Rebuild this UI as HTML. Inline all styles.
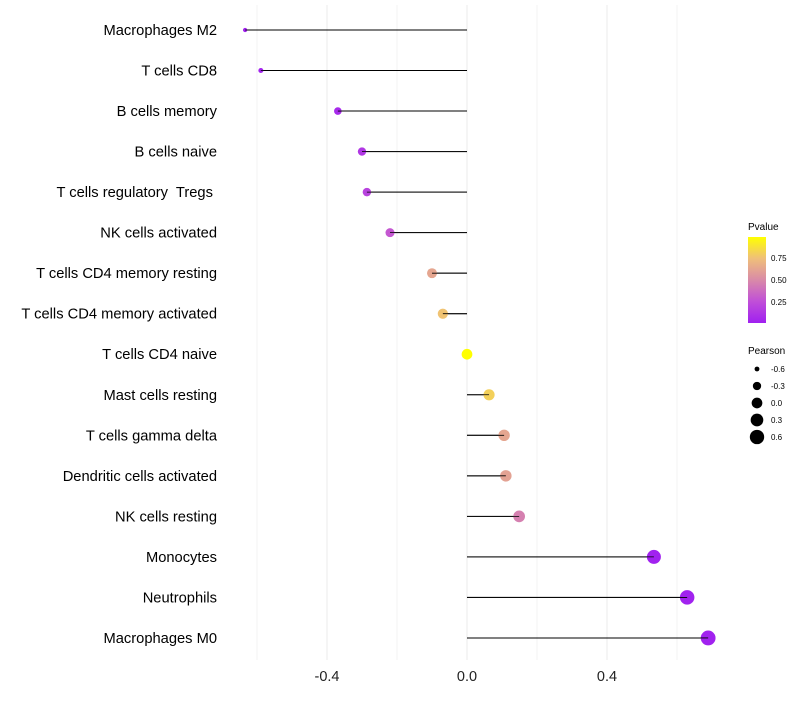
<!DOCTYPE html>
<html><head><meta charset="utf-8"><style>
body{margin:0;background:#fff;font-family:"Liberation Sans",sans-serif;}
svg text{font-family:"Liberation Sans",sans-serif;white-space:pre;}
</style></head><body>
<svg id="chart" width="800" height="700" xmlns="http://www.w3.org/2000/svg">
<g id="grid"></g>
<g id="marks"></g>
<g id="ylabels"></g>
<g id="xlabels"></g>
<g id="legend">
<defs><linearGradient id="pg" x1="0" y1="1" x2="0" y2="0">
<stop offset="0" stop-color="#A020F0"/><stop offset="0.25" stop-color="#C04FD8"/><stop offset="0.5" stop-color="#D98AA8"/><stop offset="0.75" stop-color="#EFBF7A"/><stop offset="1" stop-color="#FFFF00"/></linearGradient></defs>
<text x="748" y="230" font-size="10">Pvalue</text>
<rect x="748" y="237" width="18" height="86" fill="url(#pg)"/>
<text x="771" y="261" font-size="8">0.75</text>
<text x="771" y="283" font-size="8">0.50</text>
<text x="771" y="305" font-size="8">0.25</text>
<text x="748" y="354" font-size="10">Pearson</text>
<g id="sizeleg"></g>
</g>
</svg>
<script>
const categories=["Macrophages M2","T cells CD8","B cells memory","B cells naive","T cells regulatory  Tregs ","NK cells activated","T cells CD4 memory resting","T cells CD4 memory activated","T cells CD4 naive","Mast cells resting","T cells gamma delta","Dendritic cells activated","NK cells resting","Monocytes","Neutrophils","Macrophages M0"];
const pearson=[-0.634,-0.589,-0.369,-0.300,-0.286,-0.220,-0.100,-0.069,0.0,0.063,0.106,0.111,0.149,0.534,0.629,0.689];
const pvalues=[0.01,0.02,0.05,0.12,0.18,0.28,0.62,0.75,0.98,0.80,0.62,0.60,0.45,0.01,0.01,0.01];
const xTicks=[-0.4,0.0,0.4];
const xGrid=[-0.6,-0.2,0.2,0.6];
const sizeLegend=[-0.6,-0.3,0.0,0.3,0.6];
const NS="http://www.w3.org/2000/svg";
const x=v=>467+v*350;
const y=i=>30+i*40.53;
const rad=v=>Math.sqrt(4+(v+0.65)*38);
function mix(a,b,t){return a.map((c,k)=>Math.round(c+(b[k]-c)*t));}
const cs=[[160,32,240],[192,79,216],[217,138,168],[239,191,122],[255,255,0]];
function col(p){p=Math.max(0,Math.min(0.9999,p/0.98));const s=p*4,i=Math.floor(s);const c=mix(cs[i],cs[i+1],s-i);return`rgb(${c})`;}
function mk(t,a,parent){const e=document.createElementNS(NS,t);for(const k in a)e.setAttribute(k,a[k]);parent.appendChild(e);return e;}
const grid=document.getElementById('grid'),marks=document.getElementById('marks'),yl=document.getElementById('ylabels'),xl=document.getElementById('xlabels');
xGrid.concat(xTicks).forEach(v=>{const l=mk('line',{x1:x(v),x2:x(v),y1:5,y2:660,stroke:xTicks.includes(v)?'#ebebeb':'#f3f3f3','stroke-width':1},grid);

});
xTicks.forEach(v=>{const t=mk('text',{x:x(v),y:681,'font-size':14.5,'text-anchor':'middle',fill:'#222'},xl);t.textContent=v.toFixed(1);

});
categories.forEach((c,i)=>{const t=mk('text',{x:217,y:y(i)+5,'font-size':14.7,'text-anchor':'end',fill:'#000'},yl);t.textContent=c;


const l=mk('line',{x1:x(0),x2:x(pearson[i]),y1:y(i),y2:y(i),stroke:'#000','stroke-width':1},marks);


const p=mk('circle',{cx:x(pearson[i]),cy:y(i),r:rad(pearson[i]),fill:col(pvalues[i])},marks);


const l2=mk('line',{x1:x(0),x2:x(pearson[i]),y1:y(i),y2:y(i),stroke:'#000','stroke-width':0.8},marks);

});
const sl=document.getElementById('sizeleg');
sizeLegend.forEach((v,i)=>{const cy=369+i*17;const c=mk('circle',{cx:757,cy:cy,r:rad(v),fill:'#000'},sl);


const t=mk('text',{x:771,y:cy+3,'font-size':8},sl);t.textContent=v.toFixed(1);

});
</script>
</body></html>
